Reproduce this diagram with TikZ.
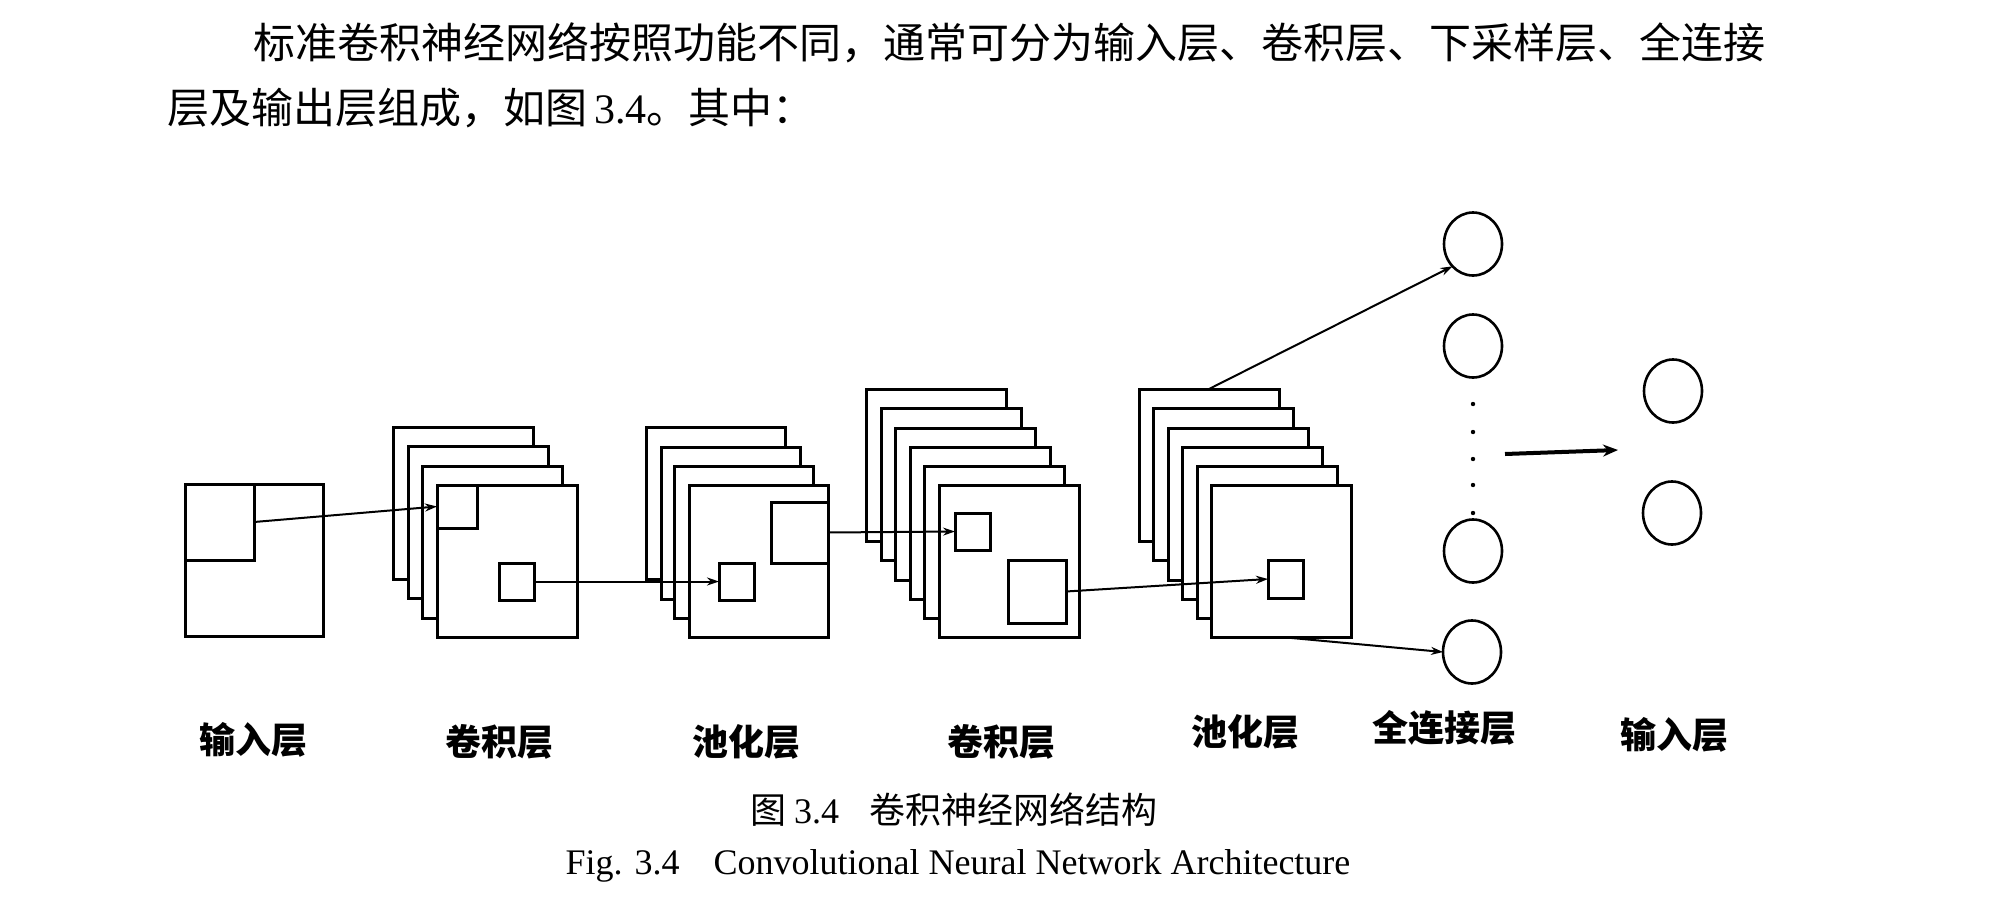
\documentclass[tikz,border=0pt]{standalone}
\usepackage{fontspec}
\setmainfont{Liberation Serif}
\newfontfamily\cjk{Noto Sans CJK SC}
\usetikzlibrary{arrows.meta,shapes.geometric}
\begin{document}
\begin{tikzpicture}[x=1pt,y=-1pt,
  fr/.style={draw,rectangle,line width=3pt,fill=white,inner sep=0,outer sep=0,anchor=north west,minimum width=140pt,minimum height=152pt},
  sq/.style={draw,rectangle,line width=3pt,inner sep=0,outer sep=0,anchor=north west},
  nrn/.style={draw,ellipse,line width=2.6pt,minimum width=58pt,minimum height=63pt,inner sep=0,outer sep=0},
  lnk/.style={line width=2pt,-{Stealth[length=12pt,width=8pt]}},
  big/.style={line width=4pt,-{Stealth[length=15pt,width=12pt]}},
  lbl/.style={font=\cjk\bfseries\fontsize{36}{40}\selectfont,inner sep=0},
  body/.style={font=\cjk\fontsize{42}{46}\selectfont,inner sep=0,anchor=west}]
\useasboundingbox (0,0) rectangle (2010,905);
% body text
\node[body] (t1) at (253,43) {标准卷积神经网络按照功能不同，通常可分为输入层、卷积层、下采样层、全连接};
\node[body] (t2) at (167,108) {层及输出层组成，如图\,{\rmfamily 3.4}。其中：};
% input
\node[fr,minimum width=138pt] (in) at (185,484) {};
\node[sq,minimum width=69pt,minimum height=76pt] (insub) at (185,484) {};
% conv1
\node[fr] (c1a) at (393,427) {};
\node[fr] (c1b) at (408,446) {};
\node[fr] (c1c) at (422,466) {};
\node[fr] (c1d) at (437,485) {};
\node[sq,minimum width=40pt,minimum height=43pt] (c1s1) at (437,485) {};
\node[sq,minimum width=35pt,minimum height=37pt] (c1s2) at (499,563) {};
% pool1
\node[fr,minimum width=139pt] (p1a) at (646,427) {};
\node[fr,minimum width=139pt] (p1b) at (661,447) {};
\node[fr,minimum width=139pt] (p1c) at (674,466) {};
\node[fr,minimum width=139pt] (p1d) at (689,485) {};
\node[sq,minimum width=57pt,minimum height=61pt] (p1s1) at (771,502) {};
\node[sq,minimum width=35pt,minimum height=37pt] (p1s2) at (719,563) {};
% conv2
\node[fr] (c2a) at (866,389) {};
\node[fr] (c2b) at (881,408) {};
\node[fr] (c2c) at (895,428) {};
\node[fr] (c2d) at (910,447) {};
\node[fr] (c2e) at (924,466) {};
\node[fr] (c2f) at (939,485) {};
\node[sq,minimum width=35pt,minimum height=37pt] (c2s1) at (955,513) {};
\node[sq,minimum width=58pt,minimum height=63pt] (c2s2) at (1008,560) {};
% pool2
\node[fr] (p2a) at (1139,389) {};
\node[fr] (p2b) at (1153,408) {};
\node[fr] (p2c) at (1168,428) {};
\node[fr] (p2d) at (1182,447) {};
\node[fr] (p2e) at (1197,466) {};
\node[fr] (p2f) at (1211,485) {};
\node[sq,minimum width=35pt,minimum height=38pt] (p2s1) at (1268,560) {};
% fully connected neurons
\node[nrn] (o1) at (1473,244) {};
\node[nrn] (o2) at (1473,346) {};
\node[nrn] (o3) at (1473,551) {};
\node[nrn] (o4) at (1472,652) {};
\foreach \yy in {404,432,459,485,513} \fill (1473,\yy) circle (2.2pt);
% output neurons
\node[nrn] (r1) at (1673,391) {};
\node[nrn] (r2) at (1672,513) {};
% connectors
\draw[lnk] (insub.east) -- (c1s1.west);
\draw[lnk] (c1s2.east) -- (p1s2.west);
\draw[lnk] (p1s1.east) -- (c2s1.west);
\draw[lnk] (c2s2.east) -- (p2s1.west);
\draw[lnk] (p2a.north) -- (o1.south west);
\draw[lnk] (p2f.south) -- (o4.west);
\coordinate (ba) at (1505,454);
\coordinate (bb) at (1618,450);
\draw[big] (ba) -- (bb);
% labels
\node[lbl] (l1) at (253,740) {输入层};
\node[lbl] (l2) at (499,742) {卷积层};
\node[lbl] (l3) at (746,742) {池化层};
\node[lbl] (l4) at (1001,742) {卷积层};
\node[lbl] (l5) at (1245,732) {池化层};
\node[lbl] (l6) at (1444,728) {全连接层};
\node[lbl] (l7) at (1674,735) {输入层};
% captions
\node[inner sep=0,anchor=west] (cap1) at (750,810) {{\cjk\fontsize{36}{40}\selectfont 图}\hspace{8pt}{\fontsize{36}{40}\selectfont 3.4}\hspace{30pt}{\cjk\fontsize{36}{40}\selectfont 卷积神经网络结构}};
\node[inner sep=0] (cap2) at (958,866) {\fontsize{36}{40}\selectfont Fig. 3.4\hspace{34pt}Convolutional Neural Network Architecture};
\end{tikzpicture}
\end{document}
